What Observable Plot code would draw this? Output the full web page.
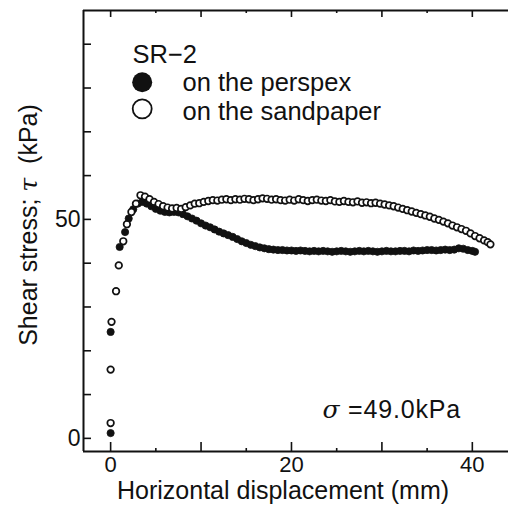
<!DOCTYPE html>
<html>
<head>
<meta charset="utf-8">
<script src="https://cdn.jsdelivr.net/npm/d3@7"></script>
<script src="https://cdn.jsdelivr.net/npm/@observablehq/plot@0.6"></script>
<style>
  html, body { margin: 0; padding: 0; background: #fff; }
  #chart svg { display: block; }
</style>
</head>
<body>
<div id="chart"></div>
<script>
// ---- data ----
const perspexX = [0, 0, 1.0, 1.6, 2.0, 2.5, 3.0, 3.5, 4.0, 4.5, 5.0, 5.5, 6.0, 6.5, 7.0, 7.5, 8.0, 8.5, 9.0, 9.5,
  10.0, 10.5, 11.0, 11.5, 12.0, 12.5, 13.0, 13.5, 14.0, 14.5, 15.0, 15.5, 16.0, 16.5, 17.0, 17.5, 18.0, 18.5, 19.0, 19.5,
  20.0, 20.5, 21.0, 21.5, 22.0, 22.5, 23.0, 23.5, 24.0, 24.5, 25.0, 25.5, 26.0, 26.5, 27.0, 27.5, 28.0, 28.5, 29.0, 29.5,
  30.0, 30.5, 31.0, 31.5, 32.0, 32.5, 33.0, 33.5, 34.0, 34.5, 35.0, 35.5, 36.0, 36.5, 37.0, 37.5, 38.0, 38.5, 39.0, 39.5,
  40.0, 40.3];
const perspexY = [1.2, 24.3, 43.7, 47.1, 50.2, 52.3, 53.6, 54.0, 53.6, 53.0, 52.4, 52.0, 51.7, 51.6, 51.7, 51.6, 51.2, 50.7, 50.2, 49.7,
  49.1, 48.6, 48.2, 47.7, 47.2, 46.8, 46.4, 46.0, 45.5, 45.0, 44.6, 44.2, 43.9, 43.6, 43.4, 43.2, 43.1, 43.0, 43.0, 42.9,
  42.9, 42.8, 42.9, 42.8, 42.7, 42.8, 42.7, 42.8, 42.7, 42.6, 42.7, 42.8, 42.7, 42.6, 42.7, 42.8, 42.7, 42.8, 42.7, 42.6,
  42.7, 42.8, 42.7, 42.7, 42.8, 42.8, 42.7, 42.9, 42.8, 42.9, 43.0, 43.0, 42.9, 43.0, 43.1, 43.0, 43.1, 43.4, 43.3, 43.0,
  42.8, 42.6];

const sandX = [0, 0, 0.1, 0.6, 0.9, 1.4, 1.8, 2.3, 2.8, 3.3, 3.8, 4.3, 4.8, 5.3, 5.8, 6.3, 6.8, 7.3, 7.8, 8.3, 8.8, 9.3, 9.8,
  10.3, 10.8, 11.3, 11.8, 12.3, 12.8, 13.3, 13.8, 14.3, 14.8, 15.3, 15.8, 16.3, 16.8, 17.3, 17.8, 18.3, 18.8, 19.3, 19.8,
  20.3, 20.8, 21.3, 21.8, 22.3, 22.8, 23.3, 23.8, 24.3, 24.8, 25.3, 25.8, 26.3, 26.8, 27.3, 27.8, 28.3, 28.8, 29.3, 29.8,
  30.3, 30.8, 31.3, 31.8, 32.3, 32.8, 33.3, 33.8, 34.3, 34.8, 35.3, 35.8, 36.3, 36.8, 37.3, 37.8, 38.3, 38.8, 39.3, 39.8,
  40.3, 40.8, 41.3, 41.7, 42.0];
const sandY = [3.5, 15.7, 26.6, 33.6, 39.5, 45.0, 48.9, 51.7, 53.6, 55.5, 55.2, 54.6, 54.0, 53.5, 53.0, 52.7, 52.5, 52.6, 52.4, 52.8, 53.2, 53.6, 53.7,
  54.0, 54.2, 54.4, 54.3, 54.5, 54.6, 54.4, 54.6, 54.5, 54.7, 54.6, 54.4, 54.6, 54.8, 54.7, 54.5, 54.6, 54.4, 54.3, 54.5,
  54.3, 54.6, 54.4, 54.2, 54.4, 54.5, 54.3, 54.2, 54.4, 54.1, 54.0, 54.2, 54.0, 53.9, 54.1, 53.8, 53.9, 53.7, 53.8, 53.6,
  53.4, 53.2, 53.0, 52.7, 52.4, 52.1, 51.8, 51.5, 51.2, 50.9, 50.6, 50.2, 49.9, 49.5, 49.1, 48.6, 48.2, 47.8, 47.4, 46.8,
  46.2, 45.7, 45.2, 44.8, 44.3];

const seriesNames = ["on the perspex", "on the sandpaper"];
const specimen = "SR\u22122";
const stressNote = "\u03C3 =49.0kPa";
const xTickLabels = [0, 20, 40];
const xMajorTicks = [0, 10, 20, 30, 40];
const xMinorTicks = [5, 15, 25, 35];
const yTickLabels = [0, 50];
const yTicks = [0, 10, 20, 30, 40, 50, 60, 70, 80, 90];
const xTitle = "Horizontal displacement (mm)";
const yTitle = "Shear stress; \u03C4  (kPa)";
const xDomain = [-3, 44];
const yDomain = [-3, 97.7];

// ---- build ----
const perspex = perspexX.map((x, i) => ({x, y: perspexY[i]}));
const sand = sandX.map((x, i) => ({x, y: sandY[i]}));

const W = 508, H = 505;
const mL = 83, mR = 0, mT = 10, mB = 54;
const pw = W - mL - mR, ph = H - mT - mB;
const ink = "#111";
const font = "'Liberation Sans', Arial, Helvetica, sans-serif";

const chart = Plot.plot({
  width: W, height: H,
  marginLeft: mL, marginRight: mR, marginTop: mT, marginBottom: mB,
  style: {fontFamily: font, color: ink, background: "white"},
  x: {domain: xDomain, axis: null},
  y: {domain: yDomain, axis: null},
  marks: [
    // frame lines
    Plot.ruleX([xDomain[0]], {stroke: ink, strokeWidth: 2}),
    Plot.ruleY([yDomain[0]], {stroke: ink, strokeWidth: 2}),
    Plot.ruleY([yDomain[1]], {stroke: ink, strokeWidth: 2.2}),
    // inward ticks
    Plot.tickY(yTicks, {y: d => d, insetRight: pw - 8, stroke: ink, strokeWidth: 1.6}),
    Plot.tickX(xMajorTicks, {x: d => d, insetTop: ph - 9, stroke: ink, strokeWidth: 1.6}),
    Plot.tickX(xMinorTicks, {x: d => d, insetTop: ph - 3, stroke: ink, strokeWidth: 1.6}),
    Plot.tickX(xMajorTicks, {x: d => d, insetBottom: ph - 7, stroke: ink, strokeWidth: 1.6}),
    Plot.tickX(xMinorTicks, {x: d => d, insetBottom: ph - 3, stroke: ink, strokeWidth: 1.6}),
    // tick labels
    Plot.axisY(yTickLabels, {tickSize: 0, tickPadding: 3, fontSize: 23, label: null, fill: ink}),
    Plot.axisX(xTickLabels, {tickSize: 0, tickPadding: 5, fontSize: 22, label: null, fill: ink}),
    // axis titles
    Plot.text([xTitle], {frameAnchor: "bottom", dx: -13, dy: 47, lineAnchor: "bottom", textAnchor: "middle", fontSize: 25, fill: ink}),
    Plot.text([yTitle], {frameAnchor: "left", rotate: -90, dx: -47, dy: -6, lineAnchor: "bottom", textAnchor: "middle", fontSize: 25, fill: ink}),
    // data
    Plot.dot(perspex, {x: "x", y: "y", r: 3.6, fill: ink, stroke: ink, strokeWidth: 0.8}),
    Plot.dot(sand, {x: "x", y: "y", r: 3.3, fill: "white", stroke: ink, strokeWidth: 1.7}),
    // legend
    Plot.text([specimen], {frameAnchor: "top-left", dx: 132 - mL, dy: 62 - mT, textAnchor: "start", lineAnchor: "bottom", fontSize: 25.5, fill: ink}),
    Plot.dot([0], {x: null, y: null, frameAnchor: "top-left", dx: 141.7 - mL, dy: 81.7 - mT, r: 10, fill: ink}),
    Plot.dot([0], {x: null, y: null, frameAnchor: "top-left", dx: 141.7 - mL, dy: 108.3 - mT, r: 9.5, fill: "white", stroke: ink, strokeWidth: 1.8}),
    Plot.text([seriesNames[0]], {frameAnchor: "top-left", dx: 182 - mL, dy: 90 - mT, textAnchor: "start", lineAnchor: "bottom", fontSize: 25.5, fill: ink}),
    Plot.text([seriesNames[1]], {frameAnchor: "top-left", dx: 182 - mL, dy: 119.5 - mT, textAnchor: "start", lineAnchor: "bottom", fontSize: 25.5, fill: ink}),
    // annotation
    Plot.text([stressNote], {frameAnchor: "bottom-left", dx: 322 - mL, dy: 417 - (H - mB), textAnchor: "start", lineAnchor: "bottom", fontSize: 25, fill: ink})
  ]
});

// italic Greek letters
chart.querySelectorAll("text").forEach(t => {
  const target = t.querySelector("tspan") || t;
  const str = target.textContent;
  const i = str.search(/[\u03C3\u03C4]/);
  if (i < 0) return;
  const ns = "http://www.w3.org/2000/svg";
  target.textContent = "";
  const a = document.createElementNS(ns, "tspan"); a.textContent = str.slice(0, i);
  const g = document.createElementNS(ns, "tspan"); g.textContent = str[i];
  g.setAttribute("font-style", "italic");
  g.setAttribute("font-family", "'DejaVu Serif', serif");
  const b = document.createElementNS(ns, "tspan"); b.textContent = str.slice(i + 1);
  target.appendChild(a); target.appendChild(g); target.appendChild(b);
});
chart.querySelectorAll("text").forEach(t => {
  if (t.textContent.includes("49.0kPa")) t.setAttribute("letter-spacing", "0.8");
});

document.getElementById("chart").appendChild(chart);
</script>
</body>
</html>
